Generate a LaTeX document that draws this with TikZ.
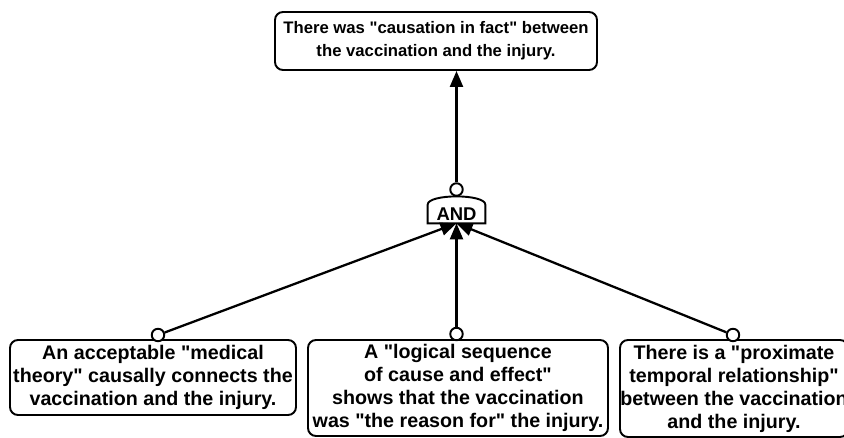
\documentclass[tikz,border=0pt]{standalone}
\usepackage{fontspec}
\setmainfont{Liberation Sans}[Ligatures=TeXOff]
\usetikzlibrary{arrows.meta}

\begin{document}
\begin{tikzpicture}[
    claim/.style={rectangle, draw, line width=1.1pt, rounded corners=0.16cm, align=center, font=\fontsize{11.2}{13.1}\selectfont\bfseries, inner sep=0pt},
    hole/.style={circle, draw, line width=1.1pt, fill=white, minimum size=0.25cm, inner sep=0pt},
    link/.style={-{Triangle[length=0.32cm, width=0.26cm]}, line width=1.3pt}]

    \clip (0,0) rectangle (16.88,8.74);

    \node[claim, font=\fontsize{9.5}{13.1}\selectfont\bfseries, minimum width=6.44cm, minimum height=1.16cm] (top) at (8.72,7.92) {There was "causation in fact" between\\the vaccination and the injury.};

    \node[font=\fontsize{10.5}{11}\selectfont\bfseries, minimum width=1.14cm, minimum height=0.36cm, inner sep=0pt] (and) at (9.13,4.46) {AND};
    \draw[line width=1.1pt] (and.south west) -- (and.north west) .. controls +(0,0.22) and +(0,0.22) .. (and.north east) -- (and.south east) -- cycle;
    \node[hole] (andin) at (9.13,4.95) {};

    \node[claim, minimum width=5.72cm, minimum height=1.5cm] (medical) at (3.06,1.19) {An acceptable "medical\\theory" causally connects the\\vaccination and the injury.};
    \node[claim, minimum width=6.0cm, minimum height=1.92cm] (logical) at (9.16,0.98) {A "logical sequence\\of cause and effect"\\shows that the vaccination\\was "the reason for" the injury.};
    \node[claim, minimum width=4.56cm, minimum height=1.94cm] (temporal) at (14.68,0.97) {There is a "proximate\\temporal relationship"\\between the vaccination\\and the injury.};

    \node[hole] (medicalout) at (3.16,2.04) {};
    \node[hole] (logicalout) at (9.13,2.06) {};
    \node[hole] (temporalout) at (14.66,2.04) {};

    \draw[link] (andin) -- (andin |- top.south);
    \draw[link] (medicalout) -- (and.south);
    \draw[link] (logicalout) -- (and.south);
    \draw[link] (temporalout) -- (and.south);
\end{tikzpicture}
\end{document}
